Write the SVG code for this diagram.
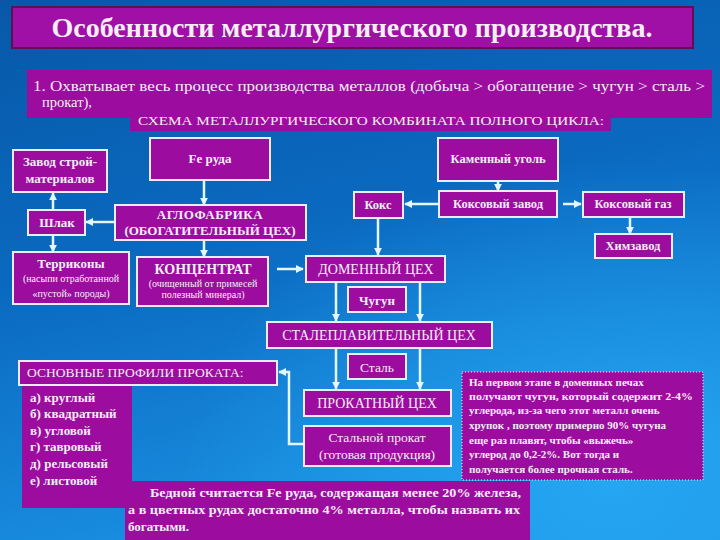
<svg xmlns="http://www.w3.org/2000/svg" width="720" height="540" viewBox="0 0 720 540">
<defs>
<linearGradient id="bg" x1="0" y1="0" x2="0.3" y2="1">
<stop offset="0" stop-color="#0858a8"/>
<stop offset="0.5" stop-color="#0a6ac0"/>
<stop offset="1" stop-color="#1a8fe2"/>
</linearGradient>
<radialGradient id="glow" cx="0.85" cy="0.9" r="0.6">
<stop offset="0" stop-color="#2ab0f8" stop-opacity="0.7"/>
<stop offset="1" stop-color="#2ab0f8" stop-opacity="0"/>
</radialGradient>
<marker id="ah" viewBox="0 0 10 10" refX="9" refY="5" markerWidth="8" markerHeight="8" markerUnits="userSpaceOnUse" orient="auto">
<path d="M0,0 L10,5 L0,10 z" fill="#e4f6ff"/>
</marker>
<style>
.box{fill:#9c0c9e;stroke:#ecebf8;stroke-width:2}
.pan{fill:#9c0c9e}
text{font-family:'Liberation Serif','Times New Roman',Times,'DejaVu Serif',serif;fill:#f6eef6}
.b{font-weight:bold}
.c{text-anchor:middle}
.con{fill:none;stroke:#e4f6ff;stroke-width:2.5;marker-end:url(#ah)}
</style>
</defs>
<rect x="0" y="0" width="720" height="540" fill="url(#bg)"/>
<rect x="0" y="0" width="720" height="540" fill="url(#glow)"/>

<g id="title">
<rect x="12" y="7" width="681" height="41" fill="#a010a6" stroke="#5e1050" stroke-width="2"/>
<text class="b c" x="352" y="37" font-size="28">Особенности металлургического производства.</text>
</g>

<g id="bullet">
<rect class="pan" x="27" y="70" width="685" height="48"/>
<text x="33" y="91" font-size="14.5" textLength="672" lengthAdjust="spacingAndGlyphs">1. Охватывает весь процесс производства металлов (добыча &gt; обогащение &gt; чугун &gt; сталь &gt;</text>
<text x="42" y="107" font-size="14.5">прокат),</text>
</g>

<g id="schema">
<rect class="pan" x="130" y="109" width="481" height="22"/>
<text class="c" x="371" y="125" font-size="12.5" textLength="466" lengthAdjust="spacingAndGlyphs">СХЕМА МЕТАЛЛУРГИЧЕСКОГО КОМБИНАТА ПОЛНОГО ЦИКЛА:</text>
</g>

<g id="zavod">
<rect class="box" x="13" y="150" width="94" height="42"/>
<text class="b c" x="60" y="166" font-size="13">Завод строй-</text>
<text class="b c" x="60" y="183" font-size="13">материалов</text>
</g>

<g id="feruda">
<rect class="box" x="150" y="138" width="120" height="42"/>
<text class="b c" x="210" y="163" font-size="13">Fe руда</text>
</g>

<g id="shlak">
<rect class="box" x="28" y="210" width="57" height="25"/>
<text class="b c" x="57" y="227" font-size="13">Шлак</text>
</g>

<g id="aglo">
<rect class="box" x="115" y="205" width="191" height="35"/>
<text class="b c" x="210" y="219" font-size="13" letter-spacing="0.5">АГЛОФАБРИКА</text>
<text class="b c" x="210" y="235" font-size="13">(ОБОГАТИТЕЛЬНЫЙ ЦЕХ)</text>
</g>

<g id="terrikony">
<rect class="box" x="13" y="252" width="116" height="52"/>
<text class="b c" x="71" y="268" font-size="13">Терриконы</text>
<text class="c" x="71" y="282" font-size="10">(насыпи отработанной</text>
<text class="c" x="71" y="297" font-size="10">«пустой» породы)</text>
</g>

<g id="koncentrat">
<rect class="box" x="137" y="257" width="131" height="49"/>
<text class="b c" x="203" y="274" font-size="14">КОНЦЕНТРАТ</text>
<text class="c" x="203" y="287" font-size="10">(очищенный от примесей</text>
<text class="c" x="203" y="298" font-size="10">полезный минерал)</text>
</g>

<g id="kamugol">
<rect class="box" x="438" y="138" width="120" height="43"/>
<text class="b c" x="498" y="163" font-size="12.5">Каменный уголь</text>
</g>

<g id="kokszavod">
<rect class="box" x="439" y="191" width="118" height="26"/>
<text class="b c" x="498" y="208" font-size="12.5">Коксовый завод</text>
</g>

<g id="koks">
<rect class="box" x="354" y="192" width="49" height="26"/>
<text class="b c" x="378" y="209" font-size="12.5">Кокс</text>
</g>

<g id="koksgaz">
<rect class="box" x="583" y="192" width="101" height="25"/>
<text class="b c" x="633" y="208" font-size="12.5">Коксовый газ</text>
</g>

<g id="himzavod">
<rect class="box" x="595" y="234" width="77" height="24"/>
<text class="b c" x="633" y="250" font-size="12.5">Химзавод</text>
</g>

<g id="domenny">
<rect class="box" x="306" y="256" width="139" height="26"/>
<text class="c" x="376" y="274" font-size="14">ДОМЕННЫЙ ЦЕХ</text>
</g>

<g id="chugun">
<rect class="box" x="348" y="287" width="58" height="25"/>
<text class="b c" x="377" y="305" font-size="13">Чугун</text>
</g>

<g id="staleplav">
<rect class="box" x="267" y="322" width="225" height="26"/>
<text class="c" x="379" y="340" font-size="14">СТАЛЕПЛАВИТЕЛЬНЫЙ ЦЕХ</text>
</g>

<g id="stal">
<rect class="box" x="348" y="354" width="58" height="25"/>
<text class="c" x="377" y="372" font-size="13.5">Сталь</text>
</g>

<g id="prokatny">
<rect class="box" x="304" y="390" width="147" height="26"/>
<text class="c" x="377" y="408" font-size="14">ПРОКАТНЫЙ ЦЕХ</text>
</g>

<g id="stalprokat">
<rect class="box" x="304" y="426" width="147" height="40"/>
<text class="c" x="377" y="442" font-size="13.5">Стальной прокат</text>
<text class="c" x="377" y="459" font-size="13.5">(готовая продукция)</text>
</g>

<g id="profili">
<rect class="pan" x="22" y="384" width="110" height="124"/>
<rect class="box" x="19" y="361" width="258" height="24"/>
<text x="27" y="377" font-size="13.5">ОСНОВНЫЕ ПРОФИЛИ ПРОКАТА:</text>
<text class="b" x="30" y="402" font-size="13">а) круглый</text>
<text class="b" x="30" y="418" font-size="13">б) квадратный</text>
<text class="b" x="30" y="435" font-size="13">в) угловой</text>
<text class="b" x="30" y="451" font-size="13">г) тавровый</text>
<text class="b" x="30" y="468" font-size="13">д) рельсовый</text>
<text class="b" x="30" y="485" font-size="13">е) листовой</text>
</g>

<g id="info">
<rect x="462" y="372" width="241" height="108" fill="#9c0c9e" stroke="#f0f0ff" stroke-width="1" stroke-dasharray="1,2"/>
<text class="b" x="469" y="386" font-size="11">На первом этапе в доменных печах</text>
<text class="b" x="469" y="400" font-size="11" textLength="224" lengthAdjust="spacingAndGlyphs">получают чугун, который содержит 2-4%</text>
<text class="b" x="469" y="414" font-size="11">углерода,  из-за  чего этот металл очень</text>
<text class="b" x="469" y="429" font-size="11">хрупок ,    поэтому примерно 90% чугуна</text>
<text class="b" x="469" y="444" font-size="11">еще раз плавят, чтобы «выжечь»</text>
<text class="b" x="469" y="458" font-size="11">углерод  до  0,2-2%.   Вот  тогда   и</text>
<text class="b" x="469" y="473" font-size="11">получается более прочная сталь.</text>
</g>

<g id="bottom">
<rect class="pan" x="125" y="481" width="405" height="59"/>
<text class="b" x="150" y="497" font-size="13" textLength="371" lengthAdjust="spacingAndGlyphs">Бедной считается Fe руда,  содержащая менее 20% железа,</text>
<text class="b" x="128" y="514" font-size="13" textLength="392" lengthAdjust="spacingAndGlyphs">а в цветных рудах достаточно 4% металла, чтобы назвать их</text>
<text class="b" x="128" y="531" font-size="13">богатыми.</text>
</g>

<g id="connectors">
<path class="con" d="M204,180 L204,205"/>
<path class="con" d="M115,222 L86,222"/>
<path class="con" d="M53,210 L53,193"/>
<path class="con" d="M53,235 L53,252"/>
<path class="con" d="M204,240 L204,257"/>
<path class="con" d="M277,269 L303,269"/>
<path class="con" d="M498,181 L498,191"/>
<path class="con" d="M439,204 L405,204"/>
<path class="con" d="M563,204 L581,204"/>
<path class="con" d="M630,217 L630,234"/>
<path class="con" d="M378,218 L378,255"/>
<path class="con" d="M336,282 L336,321"/>
<path class="con" d="M420,282 L420,321"/>
<path class="con" d="M336,348 L336,389"/>
<path class="con" d="M420,348 L420,389"/>
<path class="con" d="M304,444 L289,444 L289,372 L279,372"/>
</g>
</svg>
